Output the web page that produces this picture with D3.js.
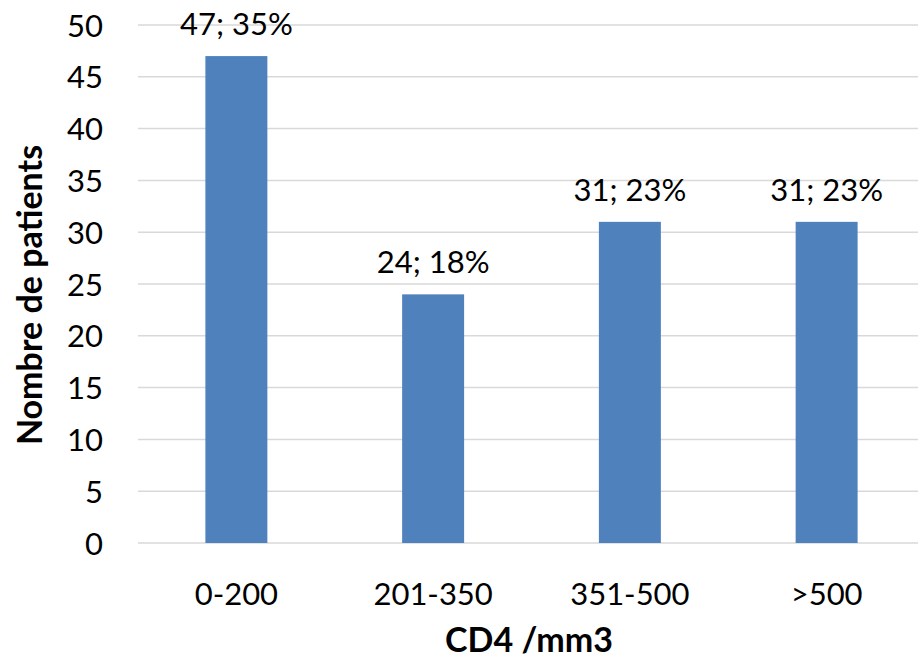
<!DOCTYPE html>
<html><head><meta charset="utf-8">
<script src="https://cdn.jsdelivr.net/npm/d3@7"></script>
<style>body{margin:0;background:#fff}svg{display:block}text{font-family:Lato,"Open Sans",sans-serif;fill:#000}</style>
</head><body><svg id="c" width="919" height="661"></svg>
<script>
const categories = ["0-200","201-350","351-500",">500"];
const values = [47,24,31,31];
const percents = ["35%","18%","23%","23%"];
const yTicks = [0,5,10,15,20,25,30,35,40,45,50];

const svg = d3.select("#c");
const x = d3.scaleBand().domain(categories).range([138,925]).paddingInner(0.685).paddingOuter(0.3425);
const y = d3.scaleLinear().domain([0,50]).range([543,25]);

svg.append("g").selectAll("line").data(yTicks).join("line")
  .attr("x1",138).attr("x2",918).attr("y1",d=>y(d)).attr("y2",d=>y(d))
  .attr("stroke","#d9d9d9").attr("stroke-width",1.5);

const yAxis = svg.append("g").attr("transform","translate(138,0)")
  .call(d3.axisLeft(y).tickValues(yTicks).tickSize(0));
yAxis.select(".domain").remove();
yAxis.selectAll("text").attr("font-size",31).attr("font-family","Lato").attr("dy","0.36em").attr("text-anchor","end").attr("x",-35);

svg.append("g").selectAll("text").data(values).join("text")
  .attr("x",(d,i)=>x(categories[i])+x.bandwidth()/2).attr("y",d=>y(d)-21)
  .attr("text-anchor","middle").attr("font-size",31)
  .text((d,i)=>d+"; "+percents[i]);

svg.append("g").selectAll("rect").data(values).join("rect")
  .attr("x",(d,i)=>x(categories[i])).attr("width",x.bandwidth())
  .attr("y",d=>y(d)).attr("height",d=>y(0)-y(d)).attr("fill","#4f81bd");

const xAxis = svg.append("g").attr("transform","translate(0,543)")
  .call(d3.axisBottom(x).tickSize(0).tickPadding(0));
xAxis.select(".domain").remove();
xAxis.selectAll("text").attr("font-size",31).attr("font-family","Lato").attr("y",62).attr("dy",0);

svg.append("text").attr("x",529).attr("y",652).attr("text-anchor","middle")
  .attr("font-size",34).attr("font-weight","bold").text("CD4 /mm3");
svg.append("text").attr("transform","translate(42,295) rotate(-90)").attr("text-anchor","middle")
  .attr("font-size",34).attr("font-weight","bold").text("Nombre de patients");
</script></body></html>
